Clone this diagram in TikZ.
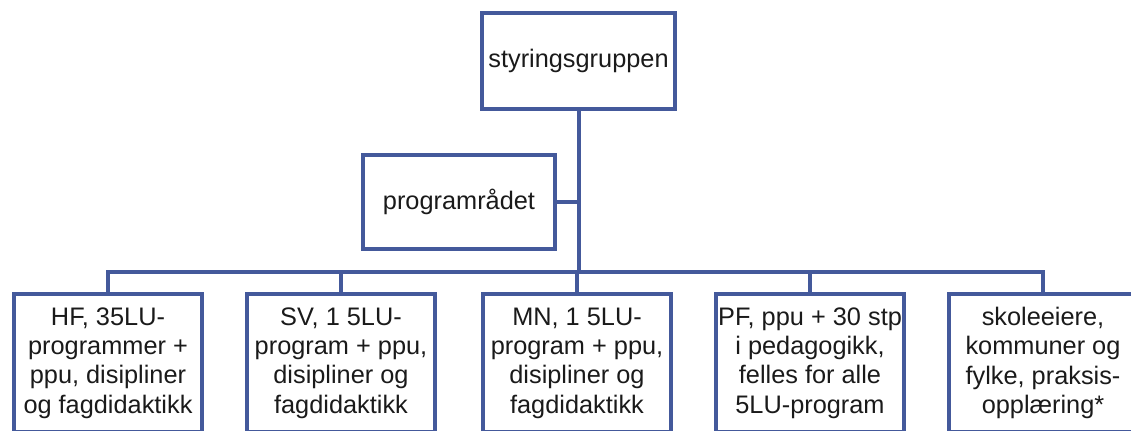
\documentclass[tikz,border=0pt]{standalone}
\usepackage{fontspec}
\setmainfont{Liberation Sans}
\definecolor{boxblue}{HTML}{44599B}
\definecolor{txt}{HTML}{1A1A1A}
\begin{document}
\begin{tikzpicture}[x=0.75pt,y=-0.75pt,
  orgbox/.style={draw=boxblue,line width=3pt,rectangle,align=center,text=txt,
    font=\fontsize{19pt}{22pt}\selectfont,inner sep=0pt},
  conn/.style={draw=boxblue,line width=3pt}]
\useasboundingbox (0,0) rectangle (1131,430);
\begin{scope}
\clip (0,0) rectangle (1131,430);
\node[orgbox,minimum width=144.75pt,minimum height=72pt] (top) at (578.5,61) {styringsgruppen};
\node[orgbox,minimum width=144pt,minimum height=70.5pt] (prog) at (459,202) {programrådet};
\node[orgbox,minimum width=141pt,minimum height=103.5pt] (b1) at (108,363) {HF, 35LU-\\programmer +\\ppu, disipliner\\og fagdidaktikk};
\node[orgbox,minimum width=141pt,minimum height=103.5pt] (b2) at (341,363) {SV, 1 5LU-\\program + ppu,\\disipliner og\\fagdidaktikk};
\node[orgbox,minimum width=141pt,minimum height=103.5pt] (b3) at (577,363) {MN, 1 5LU-\\program + ppu,\\disipliner og\\fagdidaktikk};
\node[orgbox,minimum width=141pt,minimum height=103.5pt] (b4) at (810,363) {PF, ppu + 30 stp\\i pedagogikk,\\felles for alle\\5LU-program};
\node[orgbox,minimum width=141pt,minimum height=103.5pt] (b5) at (1043,363) {skoleeiere,\\kommuner og\\fylke, praksis-\\opplæring*};
\coordinate (bus) at (578.5,272);
\draw[conn] (top.south) -- (bus);
\draw[conn] (prog.east) -- (prog.east -| top.south);
\draw[conn] (b1.north) -- (b1.north |- bus) -- (b5.north |- bus) -- (b5.north);
\draw[conn] (b2.north) -- (b2.north |- bus);
\draw[conn] (b3.north) -- (b3.north |- bus);
\draw[conn] (b4.north) -- (b4.north |- bus);
\end{scope}
\end{tikzpicture}
\end{document}
